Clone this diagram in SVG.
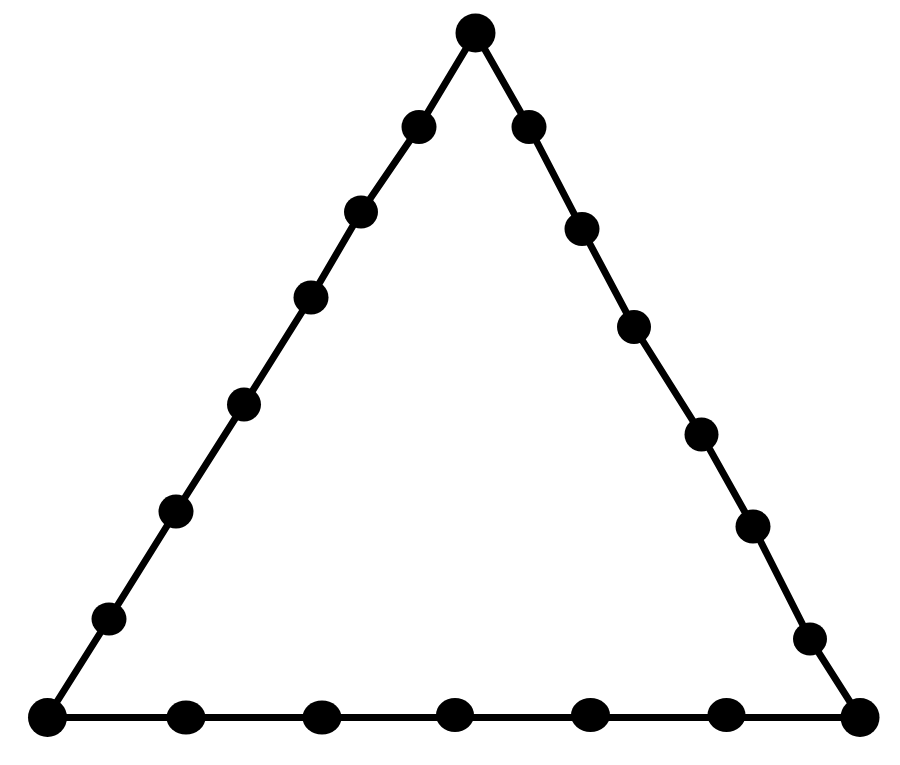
<svg xmlns="http://www.w3.org/2000/svg" width="900" height="765" viewBox="0 0 900 765">
<style>
.e{stroke:#000;stroke-width:7;fill:none;stroke-linecap:round}
.n{fill:#000}
</style>
<rect width="900" height="765" fill="#fff"/>
<g id="connectors">
<polyline class="e" points="47,717.5 109,619 176,511.5 244,404.5 311,297.5 361,212 419,127 475.5,33 529,127 582,229 634,327 701.5,434.5 753,526.5 810,639 860,717.5 47,717.5"/>
</g>
<g id="v1"><ellipse class="n" cx="475.5" cy="33" rx="20" ry="19.5"/></g>
<g id="v2"><ellipse class="n" cx="47.5" cy="717.5" rx="19.5" ry="19.5"/></g>
<g id="v3"><ellipse class="n" cx="860" cy="717.5" rx="19.5" ry="19.5"/></g>
<g id="l1"><ellipse class="n" cx="419" cy="127" rx="17.5" ry="17"/></g>
<g id="l2"><ellipse class="n" cx="361" cy="212" rx="17" ry="16.5"/></g>
<g id="l3"><ellipse class="n" cx="311" cy="297.5" rx="17.5" ry="17"/></g>
<g id="l4"><ellipse class="n" cx="244" cy="404.5" rx="17" ry="17"/></g>
<g id="l5"><ellipse class="n" cx="176" cy="511.5" rx="17.5" ry="17"/></g>
<g id="l6"><ellipse class="n" cx="109" cy="619" rx="17.5" ry="16.5"/></g>
<g id="r1"><ellipse class="n" cx="529" cy="127" rx="17.5" ry="17"/></g>
<g id="r2"><ellipse class="n" cx="582" cy="229" rx="17.5" ry="17"/></g>
<g id="r3"><ellipse class="n" cx="634" cy="327" rx="17" ry="17"/></g>
<g id="r4"><ellipse class="n" cx="701.5" cy="434.5" rx="17" ry="17"/></g>
<g id="r5"><ellipse class="n" cx="753" cy="526.5" rx="17.5" ry="17"/></g>
<g id="r6"><ellipse class="n" cx="810" cy="639" rx="17" ry="16.5"/></g>
<g id="b1"><ellipse class="n" cx="186" cy="717.5" rx="19.5" ry="17"/></g>
<g id="b2"><ellipse class="n" cx="322" cy="717.5" rx="19.5" ry="17"/></g>
<g id="b3"><ellipse class="n" cx="455" cy="715" rx="19" ry="17"/></g>
<g id="b4"><ellipse class="n" cx="590.5" cy="715" rx="19.5" ry="17"/></g>
<g id="b5"><ellipse class="n" cx="726.5" cy="715" rx="19" ry="17"/></g>
</svg>
